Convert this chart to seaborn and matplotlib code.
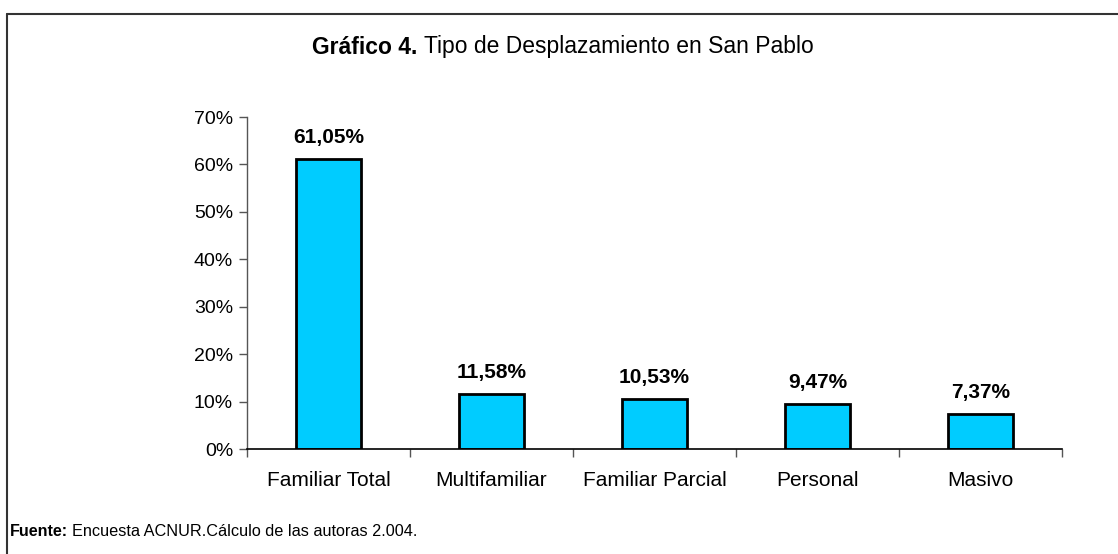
import matplotlib
matplotlib.use("Agg")
import matplotlib.pyplot as plt
import seaborn as sns
import pandas as pd
import numpy as np
from matplotlib.lines import Line2D

categories = ["Familiar Total", "Multifamiliar", "Familiar Parcial", "Personal", "Masivo"]
values = [61.05, 11.58, 10.53, 9.47, 7.37]
value_labels = ["61,05%", "11,58%", "10,53%", "9,47%", "7,37%"]
yticks = [0, 10, 20, 30, 40, 50, 60, 70]
ytick_labels = ["0%", "10%", "20%", "30%", "40%", "50%", "60%", "70%"]

sns.set_theme(style="ticks")
plt.rcParams['font.family'] = ['Liberation Sans', 'DejaVu Sans']
plt.rcParams['text.color'] = 'black'

W, H = 1118, 554
fig = plt.figure(figsize=(W / 100, H / 100), dpi=100)
ax = fig.add_axes([247 / W, 1 - 449 / H, (1062 - 247) / W, (449 - 117) / H])

df = pd.DataFrame({"cat": categories, "val": values})
sns.barplot(data=df, x="cat", y="val", color="#00CCFF", edgecolor="black",
            linewidth=2, width=0.4, saturation=1, ax=ax)

ax.set_xlim(-0.5, len(categories) - 0.5)
ax.set_ylim(0, 70)
ax.set_yticks(yticks)
ax.set_yticklabels(ytick_labels)
ax.set_xticks(range(len(categories)))
ax.set_xticklabels(categories)
ax.set_xticks(np.arange(-0.5, len(categories), 1.0), minor=True)
ax.tick_params(axis="x", which="major", length=0, pad=16, labelsize=15, labelcolor="black")
ax.tick_params(axis="x", which="minor", length=6, width=1, color="#555555")
ax.tick_params(axis="y", length=6, width=1, color="#555555", labelsize=14, pad=4, labelcolor="black")
ax.set_xlabel("")
ax.set_ylabel("")
for s in ["top", "right"]:
    ax.spines[s].set_visible(False)
ax.spines["left"].set_color("#555555")
ax.spines["bottom"].set_color("black")
ax.spines["left"].set_linewidth(1)
ax.spines["bottom"].set_linewidth(1.2)

for i, (v, lab) in enumerate(zip(values, value_labels)):
    ax.annotate(lab, (i, v), xytext=(0, 9), textcoords="offset points",
                ha="center", va="bottom", fontsize=15, fontweight="bold", color="black")

# title with bold prefix
fig.canvas.draw()
r = fig.canvas.get_renderer()
t1 = fig.text(0, 0, "Gráfico 4.", fontsize=16.5, fontweight="bold")
t2 = fig.text(0, 0, " Tipo de Desplazamiento en San Pablo", fontsize=16.5)
w1 = t1.get_window_extent(r).width
w2 = t2.get_window_extent(r).width
cx = 563
x0 = cx - (w1 + w2) / 2
ty = 1 - 47 / H
t1.set_position((x0 / W, ty)); t1.set_va("center")
t2.set_position(((x0 + w1) / W, ty)); t2.set_va("center")

f1 = fig.text(10 / W, 1 - 532 / H, "Fuente:", fontsize=11.5, fontweight="bold", va="center")
fig.canvas.draw()
fw = f1.get_window_extent(r).width
fig.text((10 + fw + 4) / W, 1 - 532 / H, "Encuesta ACNUR.Cálculo de las autoras 2.004.", fontsize=11.7, va="center")

# frame lines
fig.add_artist(Line2D([7 / W, 1], [1 - 14 / H, 1 - 14 / H], color="#333333", lw=1.5, transform=fig.transFigure))
fig.add_artist(Line2D([7 / W, 7 / W], [0, 1 - 14 / H], color="#333333", lw=1.5, transform=fig.transFigure))

fig.savefig("out.png", dpi=100, facecolor="white")
